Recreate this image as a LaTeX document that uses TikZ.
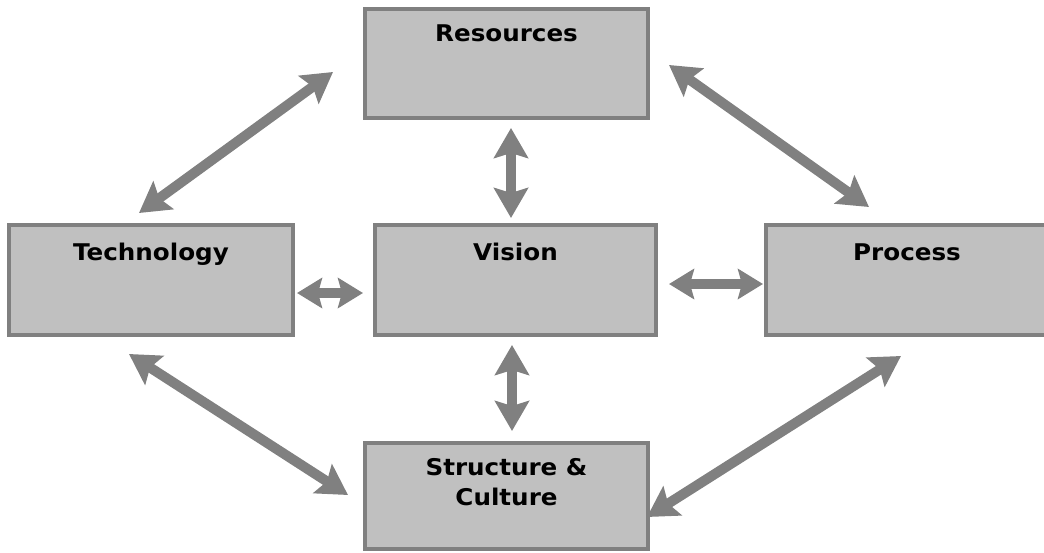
\documentclass[tikz,border=0pt]{standalone}
\usepackage{fontspec}
\setmainfont[FakeStretch=1.07]{DejaVu Sans}
\usetikzlibrary{arrows.meta}
\definecolor{boxfill}{RGB}{192,192,192}
\definecolor{boxline}{RGB}{128,128,128}
\begin{document}
\begin{tikzpicture}[x=1pt,y=-1pt,
  box/.style={draw=boxline, fill=boxfill, line width=4pt, inner sep=0pt, rectangle},
  lab/.style={anchor=base, font=\bfseries\fontsize{23}{30}\selectfont, align=center, inner sep=0pt},
  biarrow/.style={draw=boxline, line width=10pt,
    {Stealth[length=30pt,width=34pt,inset=5pt]}-{Stealth[length=30pt,width=34pt,inset=5pt]}},
  shortarrow/.style={draw=boxline, line width=10pt,
    {Stealth[length=25pt,width=30pt,inset=4pt]}-{Stealth[length=25pt,width=30pt,inset=4pt]}}]
\useasboundingbox (0,0) rectangle (1044,552);
\begin{scope}
\clip (0,0) rectangle (1044,552);
\node[box, minimum width=283pt, minimum height=109pt] (res) at (506.5,63.5) {};
\node[box, minimum width=284pt, minimum height=110pt] (tech) at (151,280) {};
\node[box, minimum width=281pt, minimum height=110pt] (vis) at (515.5,280) {};
\node[box, minimum width=282pt, minimum height=110pt] (proc) at (907,280) {};
\node[box, minimum width=283pt, minimum height=106pt] (str) at (506.5,496) {};
\end{scope}
\node[lab] (tres) at ([yshift=-34.5pt]res.north) {Resources};
\node[lab] (ttech) at ([yshift=-37pt]tech.north) {Technology};
\node[lab] (tvis) at ([yshift=-37pt]vis.north) {Vision};
\node[lab] (tproc) at ([yshift=-37pt]proc.north) {Process};
\node[lab] (tstr) at ([yshift=-64pt]str.north) {Structure \&\\Culture};
\draw[biarrow] ([xshift=-12pt,yshift=10pt]tech.north) -- ([xshift=-30pt,yshift=-8.5pt]res.west);
\draw[biarrow] ([xshift=19pt,yshift=-1.5pt]res.east) -- ([xshift=-38pt,yshift=16pt]proc.north);
\draw[biarrow] ([xshift=-22pt,yshift=-17pt]tech.south) -- ([xshift=-15pt,yshift=1pt]str.west);
\draw[biarrow] ([xshift=-3pt,yshift=-21pt]str.east) -- ([xshift=-6pt,yshift=-19pt]proc.south);
\draw[biarrow] ([xshift=4.5pt,yshift=-8pt]res.south) -- ([xshift=-4.5pt,yshift=5pt]vis.north);
\draw[biarrow] ([xshift=-3.5pt,yshift=-8pt]vis.south) -- ([xshift=5.5pt,yshift=10pt]str.north);
\draw[shortarrow] ([xshift=2pt,yshift=-13pt]tech.east) -- ([xshift=-10pt,yshift=-13pt]vis.west);
\draw[shortarrow] ([xshift=11pt,yshift=-4pt]vis.east) -- ([xshift=-1pt,yshift=-4pt]proc.west);
\end{tikzpicture}
\end{document}
